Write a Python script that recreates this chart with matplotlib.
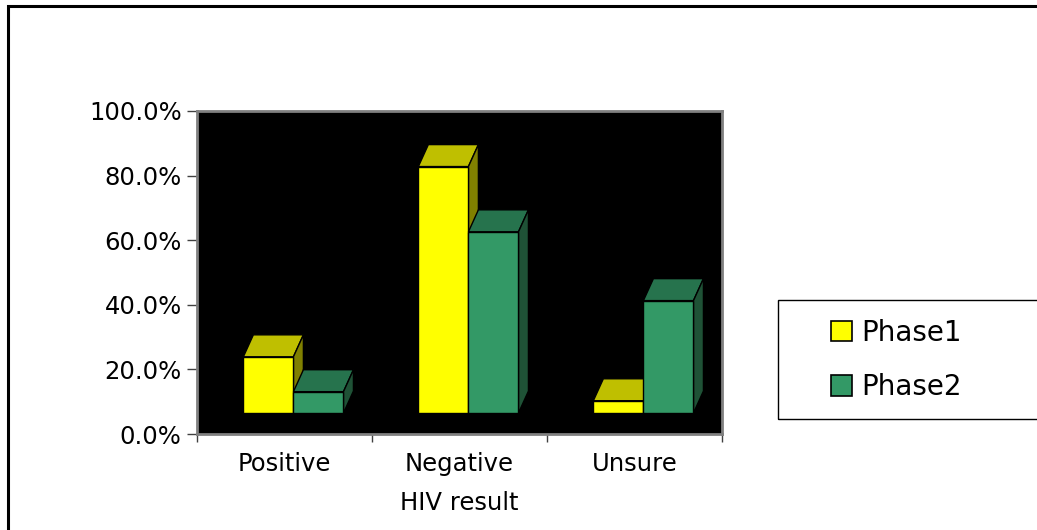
import matplotlib
matplotlib.use("Agg")
import matplotlib.pyplot as plt
from matplotlib.patches import Polygon, Rectangle, Patch
from matplotlib.ticker import FuncFormatter

#---------------------------
# Données
#---------------------------

categories = ["Positive", "Negative", "Unsure"]
series_names = ["Phase1", "Phase2"]
phase1 = [23.9, 82.8, 10.3]
phase2 = [13.1, 62.6, 41.3]
y_ticks = [0, 20, 40, 60, 80, 100]

#---------------------------
# Style 3D "Excel"
#---------------------------

front_colors = ["#FFFF00", "#339966"]
top_colors = ["#BFBF00", "#26734D"]
side_colors = ["#808000", "#1F5236"]

bar_w = 0.286       # largeur d'une barre (unités catégorie)
shift = 0.051       # décalage du groupe vers la droite
depth_x = 0.057     # profondeur oblique en x
depth_y = 6.8       # profondeur oblique en y (%)
floor = 6.5         # plancher des barres (%)

fig = plt.figure(figsize=(10.37, 5.30), dpi=100)
ax = fig.add_axes([197 / 1037, 1 - 434 / 530, 525 / 1037, 323 / 530])
ax.set_facecolor("black")

for i, cat in enumerate(categories):
    for s, values in enumerate([phase1, phase2]):
        v = values[i]
        x0 = i + shift - bar_w + s * bar_w
        x1 = x0 + bar_w
        top = [(x0, v), (x1, v), (x1 + depth_x, v + depth_y), (x0 + depth_x, v + depth_y)]
        side = [(x1, floor), (x1 + depth_x, floor + depth_y), (x1 + depth_x, v + depth_y), (x1, v)]
        ax.add_patch(Polygon(top, closed=True, fc=top_colors[s], ec="black", lw=1.0))
        ax.add_patch(Polygon(side, closed=True, fc=side_colors[s], ec="black", lw=1.0))
        ax.add_patch(Rectangle((x0, floor), bar_w, v - floor, fc=front_colors[s], ec="black", lw=1.0))

ax.set_xlim(-0.5, 2.5)
ax.set_ylim(0, 100)

ax.set_yticks(y_ticks)
ax.yaxis.set_major_formatter(FuncFormatter(lambda v, p: f"{v:.1f}%"))
ax.tick_params(axis="y", direction="out", length=7, width=1, color="#404040",
               labelsize=17.5, pad=4)

ax.set_xticks(range(len(categories)))
ax.set_xticklabels(categories)
ax.set_xticks([-0.5, 0.5, 1.5, 2.5], minor=True)
ax.tick_params(axis="x", which="major", length=0, labelsize=17.5, pad=13)
ax.tick_params(axis="x", which="minor", direction="out", length=6, width=1, color="#404040")
ax.set_xlabel("HIV result", fontsize=17.5, labelpad=11)

for sp in ax.spines.values():
    sp.set_color("#808080")
    sp.set_linewidth(2)

# Cadre extérieur du graphique
fig.patches.append(Rectangle((8 / 1037, -0.1), 1.2, 1 - 6 / 530 + 0.1,
                             transform=fig.transFigure, fill=False,
                             ec="black", lw=2.2, clip_on=False))

# Légende
fig.patches.append(Rectangle((778 / 1037, 1 - 419 / 530), 0.5, 119 / 530,
                             transform=fig.transFigure, fill=False,
                             ec="black", lw=1.0, clip_on=False))
handles = [Patch(fc=c, ec="black", lw=1.2) for c in front_colors]
fig.legend(handles, series_names, loc="center left",
           bbox_to_anchor=(806 / 1037, 1 - 360 / 530), frameon=False,
           fontsize=20, handlelength=0.75, handleheight=0.75,
           handletextpad=0.35, labelspacing=0.95)

fig.savefig("out.png", dpi=100)
